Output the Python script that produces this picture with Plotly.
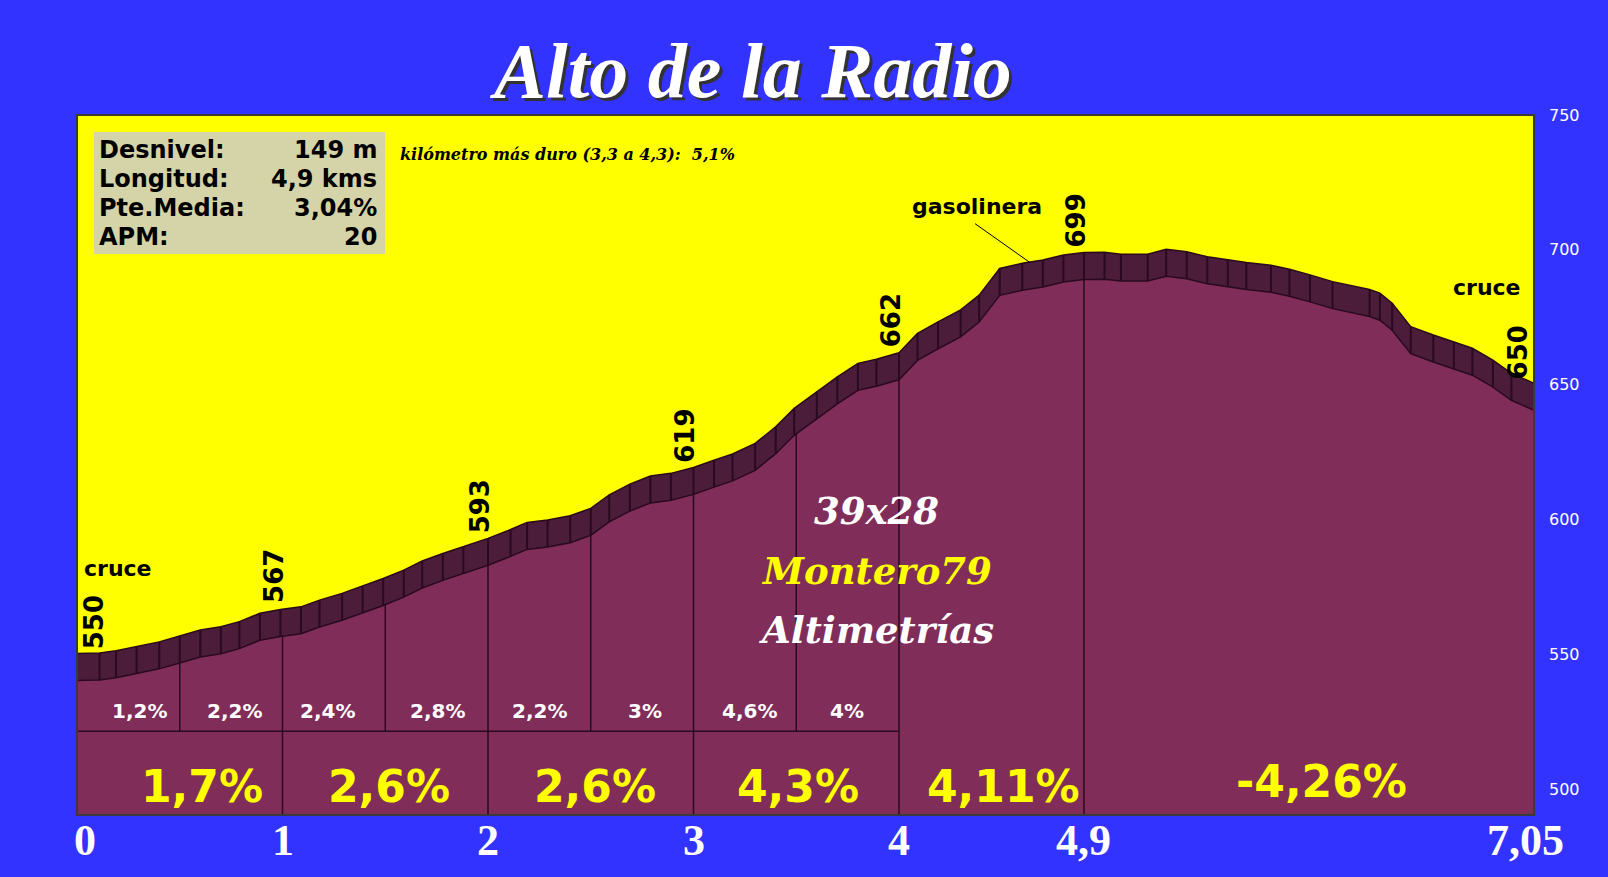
import numpy as np
import plotly.graph_objects as go

# ---------------- data ----------------
km = [0.00, 0.11, 0.19, 0.29, 0.40, 0.50, 0.60, 0.70, 0.79, 0.89, 0.99, 1.09, 1.18, 1.29,
      1.39, 1.49, 1.59, 1.68, 1.78, 1.88, 2.00, 2.11, 2.19, 2.29, 2.40, 2.50, 2.59, 2.69,
      2.79, 2.89, 3.00, 3.10, 3.19, 3.30, 3.40, 3.49, 3.60, 3.70, 3.80, 3.89, 4.00, 4.09,
      4.19, 4.30, 4.39, 4.49, 4.60, 4.70, 4.80, 4.90, 5.00, 5.08, 5.21, 5.30, 5.40, 5.50,
      5.60, 5.69, 5.81, 5.90, 6.00, 6.11, 6.29, 6.34, 6.40, 6.49, 6.60, 6.70, 6.79, 6.89,
      6.98, 7.09]
elev = [550.3, 550.5, 551.3, 552.8, 554.6, 556.8, 559.0, 560.2, 562.1, 565.2, 566.6, 567.6,
        570.1, 572.6, 575.3, 578.1, 581.2, 584.6, 587.4, 589.9, 593.0, 596.3, 598.9, 599.8,
        601.4, 604.1, 609.1, 613.1, 616.1, 617.1, 619.3, 622.0, 624.3, 628.2, 634.4, 641.2,
        647.4, 652.9, 657.9, 659.4, 661.8, 669.0, 673.3, 677.7, 683.2, 693.1, 695.0, 696.2,
        698.1, 699.0, 699.1, 698.4, 698.4, 700.2, 699.3, 697.4, 696.3, 695.3, 694.3, 692.8,
        690.7, 688.2, 685.3, 683.9, 680.2, 671.5, 668.4, 665.9, 663.5, 659.1, 654.2, 650.5]

half_km_edges = [0, 0.5, 1, 1.5, 2, 2.5, 3, 3.5, 4]
half_km_grades = ["1,2%", "2,2%", "2,4%", "2,8%", "2,2%", "3%", "4,6%", "4%"]
km_edges = [0, 1, 2, 3, 4, 4.9, 7.05]
km_grades = ["1,7%", "2,6%", "2,6%", "4,3%", "4,11%", "-4,26%"]
mark_km = [0, 1, 2, 3, 4, 4.9, 7.05]
mark_elev = [550, 567, 593, 619, 662, 699, 650]
x_tick_text = ["0", "1", "2", "3", "4", "4,9", "7,05"]
y_ticks = [500, 550, 600, 650, 700, 750]
stats_labels = ["Desnivel:", "Longitud:", "Pte.Media:", "APM:"]
stats_values = ["149 m", "4,9 kms", "3,04%", "20"]
places = ["cruce", "gasolinera", "cruce"]
place_km = [0.2, 4.38, 6.86]
place_elev = [582, 716, 686]

# ---------------- style ----------------
BLUE = "#3333FF"
YELLOW = "#FFFF00"
BAND = "#4B1D3A"
PURPLE = "#802D5A"
EDGE = "#2A0A1E"
BAND_DEPTH = 10
Y_MIN, Y_MAX = 490.4, 750
X_MAX = 7.09
ROW_LINE = 521.5

km_a = np.array(km)
elev_a = np.array(elev)
bottom_a = elev_a - BAND_DEPTH

fig = go.Figure()
fig.add_trace(go.Scatter(x=km, y=elev, mode="lines", fill="tozeroy", fillcolor=BAND,
                         line=dict(color=EDGE, width=1.5), hoverinfo="skip"))
fig.add_trace(go.Scatter(x=km, y=list(bottom_a), mode="lines", fill="tozeroy", fillcolor=PURPLE,
                         line=dict(color=EDGE, width=1.5), hoverinfo="skip"))

# band ticks
tx, ty = [], []
for k, e in zip(km, elev):
    tx += [k, k, None]
    ty += [e, e - BAND_DEPTH, None]
fig.add_trace(go.Scatter(x=tx, y=ty, mode="lines", line=dict(color=EDGE, width=2), hoverinfo="skip"))

# dividers
dx, dy = [], []
for k in km_edges[1:-1]:
    dx += [k, k, None]
    dy += [Y_MIN - 5, float(np.interp(k, km_a, bottom_a)), None]
for k in half_km_edges[1::2]:
    dx += [k, k, None]
    dy += [ROW_LINE, float(np.interp(k, km_a, bottom_a)), None]
dx += [0, half_km_edges[-1], None]
dy += [ROW_LINE, ROW_LINE, None]
fig.add_trace(go.Scatter(x=dx, y=dy, mode="lines", line=dict(color=EDGE, width=1.5), hoverinfo="skip"))

ann = []
# small grades
small_shift = [11, 3, -6, 1, 0, 3, 5, -1]
for i, g in enumerate(half_km_grades):
    xm = (half_km_edges[i] + half_km_edges[i + 1]) / 2
    ann.append(dict(x=xm, y=529, text=g, showarrow=False, xshift=small_shift[i],
                    font=dict(family="DejaVu Sans", size=20, color="white", weight="bold")))
# big grades
big_shift = [22, 4, 4, 2, 12, 17]
big_yshift = [0, 0, 0, 0, 0, 5]
for i, g in enumerate(km_grades):
    xm = (km_edges[i] + km_edges[i + 1]) / 2
    ann.append(dict(x=xm, y=501, text=g, showarrow=False, xshift=big_shift[i], yshift=big_yshift[i],
                    font=dict(family="DejaVu Sans", size=44, color=YELLOW, weight="bold")))
# elevation marks
for i, (k, e) in enumerate(zip(mark_km, mark_elev)):
    ann.append(dict(x=k, y=e, text=str(e), showarrow=False, textangle=-90,
                    xanchor="left" if i == 0 else "center", yanchor="bottom",
                    xshift=0 if i == 0 else -8, yshift=3,
                    font=dict(family="DejaVu Sans", size=26, color="black", weight="bold")))
# km axis labels
for i, (k, t) in enumerate(zip(mark_km, x_tick_text)):
    ann.append(dict(x=k, y=-0.036, xref="x", yref="paper", text=t, showarrow=False,
                    xanchor="center", yanchor="middle", xshift=8 if i == 0 else 0,
                    font=dict(family="Liberation Serif", size=44, color="white", weight="bold")))
# places
for p, k, e in zip(places, place_km, place_elev):
    ann.append(dict(x=k, y=e, text=p, showarrow=False,
                    font=dict(family="DejaVu Sans", size=22, color="black", weight="bold")))
# watermark
wm = [("39x28", 603, "white"), ("Montero79", 581, YELLOW), ("Altimetrías", 559, "white")]
for t, yv, c in wm:
    ann.append(dict(x=3.89, y=yv, text=t, showarrow=False,
                    font=dict(family="DejaVu Serif", size=37, color=c, weight="bold", style="italic")))
# stats box text
rows_y = [0.95, 0.908, 0.867, 0.826]
for lab, val, yy in zip(stats_labels, stats_values, rows_y):
    ann.append(dict(xref="paper", yref="paper", x=0.0135, y=yy, text=lab, xanchor="left",
                    yanchor="middle", showarrow=False,
                    font=dict(family="DejaVu Sans", size=24, color="black", weight="bold")))
    ann.append(dict(xref="paper", yref="paper", x=0.2075, y=yy, text=val, xanchor="right",
                    yanchor="middle", showarrow=False,
                    font=dict(family="DejaVu Sans", size=24, color="black", weight="bold")))
ann.append(dict(xref="paper", yref="paper", x=0.2203, y=0.943, xanchor="left", yanchor="middle",
                text="kilómetro más duro (3,3 a 4,3):  5,1%", showarrow=False,
                font=dict(family="DejaVu Serif", size=16, color="black", weight="bold", style="italic")))
# title with shadow
for dxs, dys, col in [(3, -3, "#333333"), (0, 0, "white")]:
    ann.append(dict(xref="paper", yref="paper", x=0.462, y=1.063, text="Alto de la Radio",
                    xanchor="center", yanchor="middle",
                    showarrow=False, xshift=dxs, yshift=dys,
                    font=dict(family="Liberation Serif", size=78, color=col, weight="bold", style="italic")))

shapes = [
    dict(type="rect", xref="paper", yref="paper", x0=0.0117, x1=0.2114, y0=0.8014, y1=0.9757,
         fillcolor="#D4D4A8", line=dict(width=0), layer="above"),
    dict(type="line", xref="x", yref="y", x0=4.37, y0=709.7, x1=4.637, y1=695.3,
         line=dict(color="black", width=1)),
    dict(type="rect", xref="paper", yref="paper", x0=0, x1=1, y0=0, y1=1,
         line=dict(color="#3A3A3A", width=2)),
]

fig.update_layout(
    width=1608, height=877,
    margin=dict(l=77, r=74, t=115, b=62),
    paper_bgcolor=BLUE, plot_bgcolor=YELLOW,
    showlegend=False, hovermode=False,
    annotations=ann, shapes=shapes,
    xaxis=dict(range=[0, X_MAX], showticklabels=False, showgrid=False,
               zeroline=False, showline=False, ticks="", automargin=False),
    yaxis=dict(range=[Y_MIN, Y_MAX], tickvals=y_ticks, side="right", showgrid=False,
               zeroline=False, showline=False, ticks="", ticklabelstandoff=14, automargin=False,
               tickfont=dict(family="DejaVu Sans", size=16, color="white")),
)
fig.write_html(
    "out.html",
    config={"displayModeBar": False},
    post_script="document.body.style.margin='0';document.body.style.padding='0';"
                "document.body.style.background='#3333FF';document.body.style.overflow='hidden';",
)
